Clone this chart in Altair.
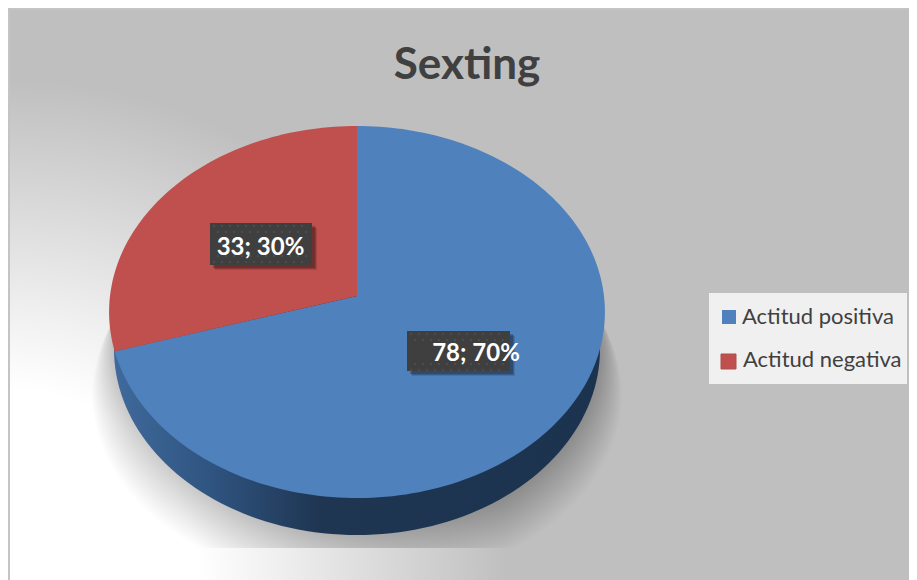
import math
import altair as alt
import pandas as pd

title_text = "Sexting"
categories = ["Actitud positiva", "Actitud negativa"]
values = [78, 33]
percents = ["70%", "30%"]
colors = ["#4f81bd", "#c0504d"]

X0, X1, Y0, Y1 = 8, 909, 8, 580
SX = alt.Scale(domain=[X0, X1], range=[0, X1 - X0], nice=False, zero=False)
SY = alt.Scale(domain=[Y0, Y1], range=[0, Y1 - Y0], nice=False, zero=False)
ax = lambda f="x": alt.X(f"{f}:Q", axis=None, scale=SX)
ay = lambda f="y": alt.Y(f"{f}:Q", axis=None, scale=SY)


def poly(points, **mark):
    df = pd.DataFrame([{"x": p[0], "y": p[1], "i": i} for i, p in enumerate(points)])
    return alt.Chart(df).mark_line(interpolate="linear", strokeWidth=0, **mark).encode(
        x=ax(), y=ay(), order=alt.Order("i:Q")
    )


def rect(x, x2, y, y2, **mark):
    df = pd.DataFrame([{"x": x, "x2": x2, "y": y, "y2": y2}])
    return alt.Chart(df).mark_rect(**mark).encode(
        x=ax(), x2=alt.X2("x2:Q"), y=ay(), y2=alt.Y2("y2:Q")
    )


def text(s, x, y, **mark):
    df = pd.DataFrame([{"x": x, "y": y, "t": s}])
    return alt.Chart(df).mark_text(baseline="middle", **mark).encode(
        x=ax(), y=ay(), text="t:N"
    )


def ellipse(cx, cy, rx, ry, clip_y=None, n=180):
    pts = []
    for k in range(n):
        a = 2 * math.pi * k / n
        y = cy + ry * math.sin(a)
        if clip_y is not None:
            y = min(y, clip_y)
        pts.append((cx + rx * math.cos(a), y))
    pts.append(pts[0])
    return pts


# perspective disc: apex sits above the centre of the visible ellipse
CX, APEX, PA, PC, PR = 357, 296, 159.2, -0.086, 247


def disc(theta):
    v = -math.cos(theta)
    d = 1 + PC * v
    return (CX + PR * math.sin(theta) / d, (PA * v + APEX) / d)


def wedge(a0, a1):
    n = max(2, int(abs(a1 - a0) * 40))
    pts = [(CX, APEX)]
    pts += [disc(a0 + (a1 - a0) * k / n) for k in range(n + 1)]
    pts.append((CX, APEX))
    return pts


layers = []

# background
bg = {
    "gradient": "radial", "x1": 0.0, "y1": 1.0, "r1": 0.19,
    "x2": 0.0, "y2": 1.0, "r2": 0.5,
    "stops": [{"offset": 0, "color": "#ffffff"}, {"offset": 0.25, "color": "#f0f0f0"},
              {"offset": 1, "color": "#bfbfbf"}],
}
layers.append(rect(8, 1008, -420, 580, fill=bg, clip=True))
layers.append(rect(8, 917, 8, 590, fill="transparent", stroke="#c4c4c4", strokeWidth=4, clip=True))

# shadow
steps = 26
for s in range(steps):
    t = s / (steps - 1)
    layers.append(poly(
        ellipse(357, 349 + 46 * (1 - t), 243 + 22 * (1 - t), 186 + 4 * (1 - t), clip_y=548),
        fill="#000000", fillOpacity=0.0085,
    ))

# side wall
wall = {
    "gradient": "linear", "x1": 0, "y1": 0, "x2": 1, "y2": 0,
    "stops": [{"offset": 0, "color": "#3f6a9c"}, {"offset": 0.2, "color": "#2f5480"},
              {"offset": 0.42, "color": "#1f3653"}, {"offset": 1, "color": "#1c3350"}],
}
layers.append(poly(ellipse(357, 349, 243, 186), fill=wall))

# slices
total = sum(values)
a = 0.0
for v, c in zip(values, colors):
    b = a + 2 * math.pi * v / total
    layers.append(poly(wedge(a, b), fill=c, stroke=c))
    a = b

# data labels
box_geo = [(407, 510, 331, 371, 476, 354), (210, 312, 223, 265, 260.5, 247.5)]
for (x, x2, y, y2, tx, ty), v, p in zip(box_geo, values, percents):
    for off, op in [(5, 0.12), (4, 0.16), (3, 0.2)]:
        layers.append(rect(x + off, x2 + off, y + off, y2 + off, fill="#000000", opacity=op))
    layers.append(rect(x, x2, y, y2, fill="#3f3f3f"))
    dots = pd.DataFrame([
        {"x": x + 4 + 8 * i + (4 if j % 2 else 0), "y": y + 3 + 6 * j}
        for i in range(int((x2 - x - 6) / 8)) for j in (0, 1, 5, 6)
    ])
    layers.append(alt.Chart(dots).mark_point(filled=True, shape="square", size=3, color="#6a6a6a", opacity=0.5).encode(x=ax(), y=ay()))
    layers.append(text(f"{v}; {p}", tx, ty, font="Lato", fontWeight="bold", fontSize=24, color="#ffffff", align="center"))

# title
layers.append(text(title_text, 467, 65.5, font="Lato", fontWeight="bold", fontSize=44, color="#404040", align="center"))

# legend
layers.append(rect(709, 907, 293, 384, fill="#f0f0f0"))
layers.append(rect(722, 736, 310, 324, fill=colors[0]))
layers.append(rect(721, 736, 354, 369, fill=colors[1], stroke="#a9504e", strokeWidth=1))
layers.append(text(categories[0], 742, 317, font="Lato", fontSize=22, color="#404040", align="left"))
layers.append(text(categories[1], 743, 360, font="Lato", fontSize=22, color="#404040", align="left"))

chart = alt.layer(*layers).properties(
    width=X1 - X0, height=Y1 - Y0, padding=0,
    autosize=alt.AutoSizeParams(type="none"), background="#ffffff",
).configure_view(stroke=None)

chart.save("out.html", embed_options={"renderer": "svg", "actions": False})
